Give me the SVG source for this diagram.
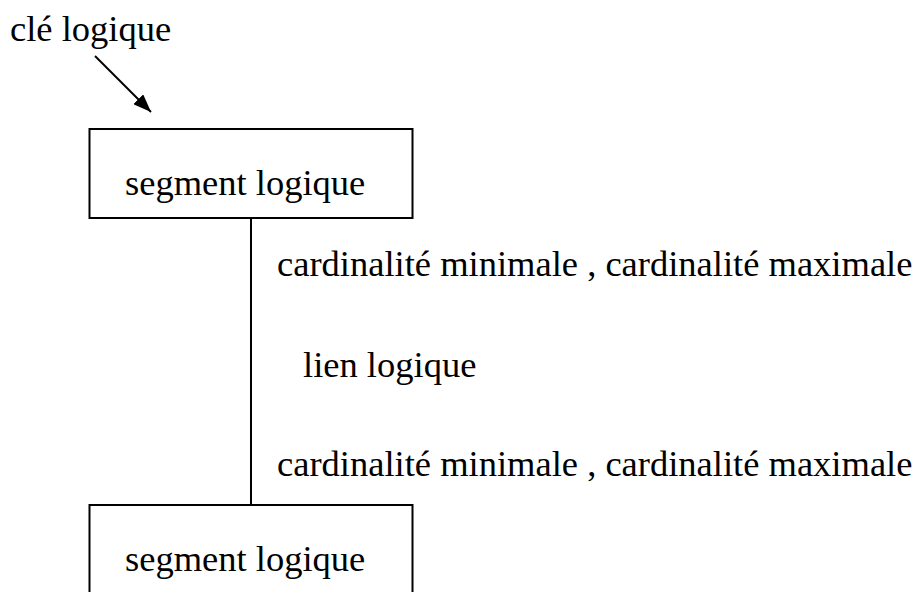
<svg xmlns="http://www.w3.org/2000/svg" width="921" height="592" viewBox="0 0 921 592">
<defs>
<style>
text{font-family:"Liberation Serif","Times New Roman",serif;font-size:36.5px;fill:#000}
.box{fill:#fff;stroke:#000;stroke-width:2}
.ln{stroke:#000;stroke-width:2;fill:none}
</style>
<marker id="ah" markerWidth="18" markerHeight="14" refX="18" refY="7" orient="auto" markerUnits="userSpaceOnUse" viewBox="0 0 18 14">
<path d="M0,0 L18,7 L0,14 z" fill="#000"/>
</marker>
</defs>
<rect width="921" height="592" fill="#fff"/>
<g id="connectors">
<line class="ln" x1="95" y1="56" x2="151" y2="112" marker-end="url(#ah)"/>
<line class="ln" x1="251" y1="219" x2="251" y2="505"/>
</g>
<g id="key"><text x="10" y="41">clé logique</text></g>
<g id="seg1">
<rect class="box" x="89.5" y="129" width="323" height="89"/>
<text x="125" y="195">segment logique</text>
</g>
<g id="card1"><text x="277" y="276">cardinalité minimale , cardinalité maximale</text></g>
<g id="lien"><text x="303" y="377">lien logique</text></g>
<g id="card2"><text x="277" y="476">cardinalité minimale , cardinalité maximale</text></g>
<g id="seg2">
<rect class="box" x="89.5" y="505" width="323" height="100"/>
<text x="125" y="571">segment logique</text>
</g>
</svg>
